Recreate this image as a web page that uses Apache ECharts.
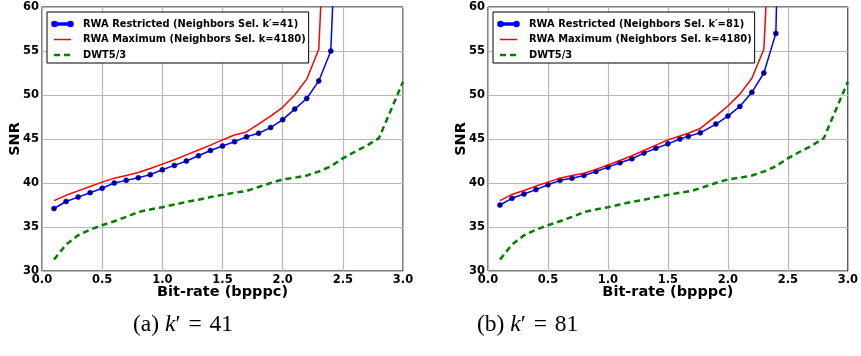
<!DOCTYPE html>
<html>
<head>
<meta charset="utf-8">
<script src="https://cdn.jsdelivr.net/npm/echarts@6/dist/echarts.min.js"></script>
<style>
html,body{margin:0;padding:0;background:#fff;}
#c{width:861px;height:356px;}
</style>
</head>
<body>
<div id="c"></div>
<script>
// ---- data ----
var xLeft = [0.1,0.2,0.3,0.4,0.5,0.6,0.7,0.8,0.9,1.0,1.1,1.2,1.3,1.4,1.5,1.6,1.7,1.8,1.9,2.0,2.1,2.2,2.3,2.4,2.5];
var blueLeft = [37.1,37.9,38.4,38.9,39.4,40.0,40.3,40.6,40.95,41.5,42.0,42.5,43.1,43.7,44.2,44.7,45.25,45.65,46.3,47.2,48.4,49.6,51.6,55.0,88];
var redLeft = [38.0,38.6,39.1,39.6,40.1,40.55,40.85,41.2,41.65,42.15,42.65,43.2,43.75,44.3,44.9,45.45,45.8,46.7,47.6,48.6,50.0,51.8,55.2,85];

var xRight = [0.1,0.2,0.3,0.4,0.5,0.6,0.7,0.8,0.9,1.0,1.1,1.2,1.3,1.4,1.5,1.6,1.67,1.77,1.9,2.0,2.1,2.2,2.3,2.4,2.45];
var blueRight = [37.5,38.26,38.75,39.25,39.8,40.3,40.55,40.86,41.3,41.8,42.3,42.75,43.4,43.95,44.45,45.0,45.3,45.7,46.7,47.6,48.7,50.3,52.5,57.0,87];
var redRight = [38.0,38.7,39.15,39.65,40.1,40.55,40.85,41.1,41.55,42.05,42.55,43.1,43.7,44.3,44.9,45.35,45.65,46.2,47.6,48.75,50.1,51.9,55.2,83];

var xDwt = [0.1,0.2,0.3,0.4,0.5,0.6,0.7,0.8,0.9,1.0,1.1,1.2,1.3,1.4,1.5,1.6,1.7,1.8,1.9,2.0,2.1,2.2,2.3,2.4,2.5,2.6,2.7,2.8,2.9,3.0];
var dwt = [31.3,33.0,34.05,34.7,35.2,35.65,36.15,36.7,37.0,37.25,37.55,37.85,38.1,38.4,38.65,38.9,39.1,39.55,40.0,40.4,40.6,40.85,41.3,41.9,42.8,43.55,44.25,45.1,48.3,51.5];

var nameBlueLeft = 'RWA Restricted (Neighbors Sel. k\u2032=41)';
var nameBlueRight = 'RWA Restricted (Neighbors Sel. k\u2032=81)';
var nameRed = 'RWA Maximum (Neighbors Sel. k=4180)';
var nameDwt = 'DWT5/3';
var captions = ['(a) {i|k}\u2032 {e|=} 41', '(b) {i|k}\u2032 {e|=} 81'];

function pairs(xs, ys) { return ys.map(function (y, i) { return [xs[i], y]; }); }

var FONT = 'DejaVu Sans';
// legend sample icons (21 x 7 box)
var ICON_BLUE = 'path://M0,0M21,7M2,2.75h17v1.5h-17z' +
  'M4.8,3.5a2.3,2.3 0 1,0 -4.6,0a2.3,2.3 0 1,0 4.6,0z' +
  'M20.8,3.5a2.3,2.3 0 1,0 -4.6,0a2.3,2.3 0 1,0 4.6,0z';
var ICON_RED = 'path://M0,0M21,7M2,2.75h17v1.5h-17z';
var ICON_DWT = 'path://M0,0M21,7M2,2.25h6v2.5h-6zM12,2.25h6v2.5h-6z';

function xAx(gi) {
  return {
    gridIndex: gi, type: 'value', min: 0, max: 3, interval: 0.5,
    name: 'Bit-rate (bpppc)', nameLocation: 'middle', nameGap: 14, nameMoveOverlap: false,
    nameTextStyle: { fontFamily: FONT, fontWeight: 'bold', fontSize: 14.5, color: '#000' },
    axisLine: { show: false }, axisTick: { show: false },
    axisLabel: { fontFamily: FONT, fontWeight: 'bold', fontSize: 11.5, color: '#000', margin: 3,
      formatter: function (v) { return v.toFixed(1); } },
    splitLine: { show: true, lineStyle: { color: '#b8b8b8', width: 1.2 } }
  };
}
function yAx(gi) {
  return {
    gridIndex: gi, type: 'value', min: 30, max: 60, interval: 5,
    name: 'SNR', nameLocation: 'middle', nameGap: 19, nameRotate: 90, nameMoveOverlap: false,
    nameTextStyle: { fontFamily: FONT, fontWeight: 'bold', fontSize: 14.5, color: '#000' },
    axisLine: { show: false }, axisTick: { show: false },
    axisLabel: { fontFamily: FONT, fontWeight: 'bold', fontSize: 11.5, color: '#000', margin: 3 },
    splitLine: { show: true, lineStyle: { color: '#b8b8b8', width: 1.2 } }
  };
}
function blueSeries(name, gi, xs, ys) {
  return { name: name, type: 'line', xAxisIndex: gi, yAxisIndex: gi, data: pairs(xs, ys),
    symbol: 'circle', symbolSize: 5, showAllSymbol: true, clip: true,
    lineStyle: { color: '#0000ff', width: 1.5 },
    itemStyle: { color: '#00007a', borderColor: '#0000ff', borderWidth: 0.6 }, z: 3 };
}
function redSeries(gi, xs, ys) {
  return { name: nameRed, type: 'line', xAxisIndex: gi, yAxisIndex: gi, data: pairs(xs, ys),
    symbol: 'none', clip: true, lineStyle: { color: '#ff0000', width: 1.5 }, itemStyle: { color: '#ff0000' }, z: 4 };
}
function dwtSeries(gi) {
  return { name: nameDwt, type: 'line', xAxisIndex: gi, yAxisIndex: gi, data: pairs(xDwt, dwt),
    symbol: 'none', clip: true, lineStyle: { color: '#008000', width: 2.5, type: [6, 4] }, itemStyle: { color: '#008000' }, z: 5 };
}
function legendAt(left, blueName) {
  return {
    left: left, top: 12, orient: 'vertical',
    data: [
      { name: blueName, icon: ICON_BLUE, itemStyle: { color: '#0000e0' } },
      { name: nameRed, icon: ICON_RED, itemStyle: { color: '#ff0000' } },
      { name: nameDwt, icon: ICON_DWT, itemStyle: { color: '#008000' } }
    ],
    itemWidth: 21, itemHeight: 7, itemGap: 1.5,
    padding: [5, 3, 1, 4], borderColor: '#000', borderWidth: 1, borderRadius: 0,
    backgroundColor: '#fff',
    textStyle: { fontFamily: FONT, fontWeight: 'bold', fontSize: 9.9, color: '#000', lineHeight: 14, padding: [0, 0, 0, 5] },
    selectedMode: false
  };
}
function caption(left, text) {
  return { type: 'text', left: left, top: 313,
    style: { text: text, fontFamily: 'Liberation Serif', fontSize: 23.5, fill: '#000',
      rich: {
        i: { fontFamily: 'Liberation Serif', fontStyle: 'italic', fontSize: 23.5 },
        e: { fontFamily: 'Liberation Serif', fontSize: 23.5, padding: [0, 2, 0, 2] }
      } } };
}

var chart = echarts.init(document.getElementById('c'), null, { renderer: 'canvas' });
chart.setOption({
  animation: false,
  backgroundColor: '#fff',
  grid: [
    { left: 42, top: 7, width: 361, height: 264, show: true, borderColor: '#000', borderWidth: 1, backgroundColor: 'transparent' },
    { left: 488, top: 7, width: 361, height: 264, show: true, borderColor: '#000', borderWidth: 1, backgroundColor: 'transparent' }
  ],
  xAxis: [xAx(0), xAx(1)],
  yAxis: [yAx(0), yAx(1)],
  legend: [legendAt(47, nameBlueLeft), legendAt(493, nameBlueRight)],
  series: [
    blueSeries(nameBlueLeft, 0, xLeft, blueLeft), redSeries(0, xLeft, redLeft), dwtSeries(0),
    blueSeries(nameBlueRight, 1, xRight, blueRight), redSeries(1, xRight, redRight), dwtSeries(1)
  ],
  graphic: [caption(133, captions[0]), caption(477, captions[1])]
});
</script>
</body>
</html>
